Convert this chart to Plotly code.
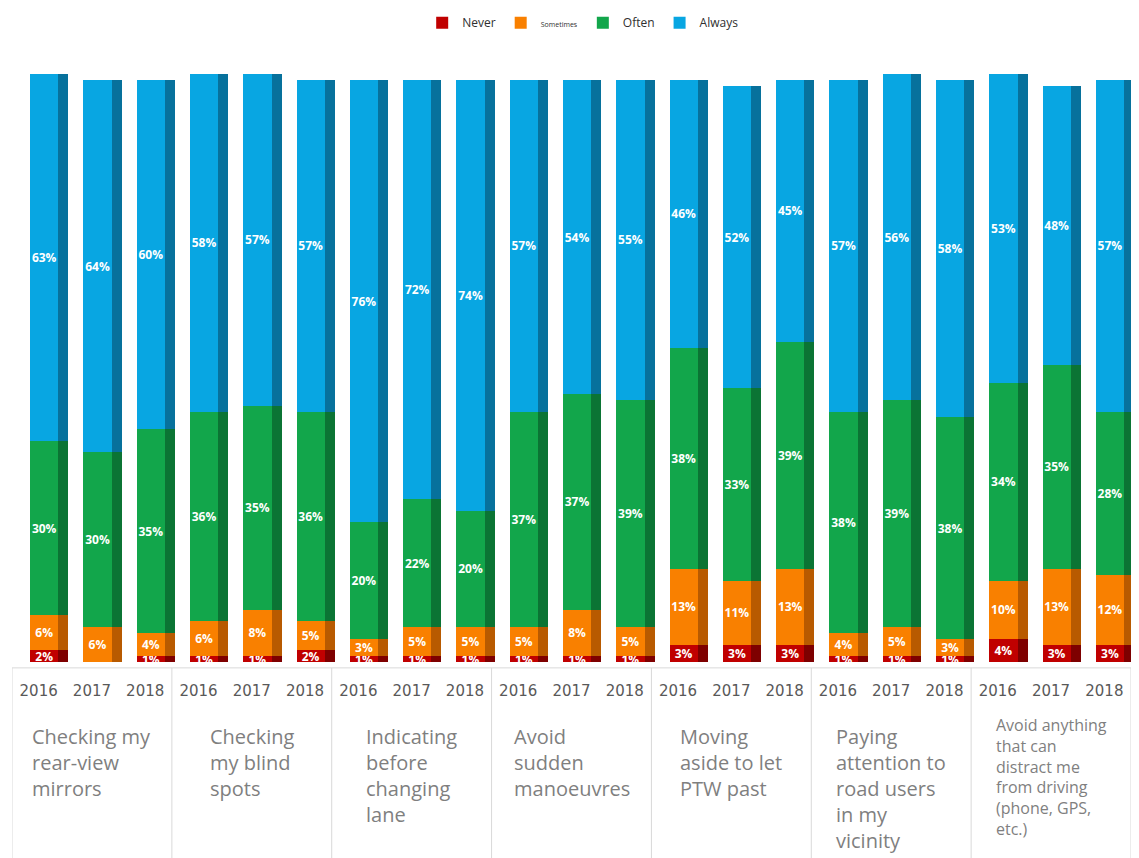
import plotly.graph_objects as go

# Survey answers per behaviour and year (percent of respondents)
groups = [
    "Checking my<br>rear-view<br>mirrors",
    "Checking<br>my blind<br>spots",
    "Indicating<br>before<br>changing<br>lane",
    "Avoid<br>sudden<br>manoeuvres",
    "Moving<br>aside to let<br>PTW past",
    "Paying<br>attention to<br>road users<br>in my<br>vicinity",
    "Avoid anything<br>that can<br>distract me<br>from driving<br>(phone, GPS,<br>etc.)",
]
years = ["2016", "2017", "2018"]

never = [2, 0, 1, 1, 1, 2, 1, 1, 1, 1, 1, 1, 3, 3, 3, 1, 1, 1, 4, 3, 3]
sometimes = [6, 6, 4, 6, 8, 5, 3, 5, 5, 5, 8, 5, 13, 11, 13, 4, 5, 3, 10, 13, 12]
often = [30, 30, 35, 36, 35, 36, 20, 22, 20, 37, 37, 39, 38, 33, 39, 38, 39, 38, 34, 35, 28]
always = [63, 64, 60, 58, 57, 57, 76, 72, 74, 57, 54, 55, 46, 52, 45, 57, 56, 58, 53, 48, 57]

series = [
    ("Never", never, "#C00000", "#7E0000"),
    ("<span style='font-size:7px'>Sometimes</span>", sometimes, "#F98000", "#B85A00"),
    ("Often", often, "#12A64B", "#0B7434"),
    ("Always", always, "#08A6E2", "#07719C"),
]

n_years = len(years)
positions = list(range(len(groups) * n_years))
tick_text = years * len(groups)

FRONT_OFFSET, FRONT_WIDTH, SIDE_WIDTH = -0.16, 0.53, 0.19

fig = go.Figure()
for name, vals, front, side in series:
    # front face with value labels
    fig.add_trace(go.Bar(
        x=positions, y=vals, name=name,
        offset=FRONT_OFFSET, width=FRONT_WIDTH,
        marker=dict(color=front, line=dict(width=0)),
        text=[f"{v}%" for v in vals],
        texttemplate="<b>%{text}</b>",
        textposition="inside", insidetextanchor="middle", textangle=0,
        constraintext="none",
        textfont=dict(color="white", size=12, family="Open Sans"),
        legendgroup=name,
    ))
    # darker side face giving the bars some depth
    fig.add_trace(go.Bar(
        x=positions, y=vals, xaxis="x2",
        offset=FRONT_OFFSET + FRONT_WIDTH, width=SIDE_WIDTH,
        marker=dict(color=side, line=dict(width=0)),
        showlegend=False, hoverinfo="skip", legendgroup=name,
    ))

x_lo, x_hi = -0.5, len(positions) - 0.5
box_top, box_bottom = -0.01, -0.34

shapes = [dict(type="line", xref="x", yref="paper", x0=x_lo, x1=x_hi,
               y0=box_top, y1=box_top, line=dict(color="#D9D9D9", width=1))]
for g in range(len(groups) + 1):
    xb = g * n_years - 0.5
    shapes.append(dict(type="line", xref="x", yref="paper", x0=xb, x1=xb,
                       y0=box_top, y1=box_bottom, line=dict(color="#D9D9D9", width=1)))

annotations = []
for g, label in enumerate(groups):
    last = g == len(groups) - 1
    annotations.append(dict(
        text=label, xref="x", yref="paper",
        x=g * n_years + 1, y=-0.085 if last else -0.1,
        xanchor="center", yanchor="top", align="left", showarrow=False,
        font=dict(family="Open Sans", size=16 if last else 20, color="#7F7F7F"),
    ))

fig.update_layout(
    width=1139, height=858,
    margin=dict(l=12, r=8, t=72, b=196),
    barmode="stack",
    plot_bgcolor="white", paper_bgcolor="white",
    xaxis=dict(range=[x_lo, x_hi], tickvals=positions, ticktext=tick_text,
               tickfont=dict(family="DejaVu Sans", size=15, color="#595959"),
               ticklabelstandoff=18, showgrid=False, zeroline=False,
               showline=False, ticks=""),
    xaxis2=dict(range=[x_lo, x_hi], overlaying="x", matches="x", visible=False),
    yaxis=dict(range=[0, 101], visible=False, showgrid=False, zeroline=False),
    legend=dict(orientation="h", x=0.51, xanchor="center", y=1.112, yanchor="top",
                font=dict(family="Open Sans", size=12, color="#303030"),
                itemwidth=30, tracegroupgap=0),
    shapes=shapes,
    annotations=annotations,
    showlegend=True,
)

fig.write_html("out.html")
